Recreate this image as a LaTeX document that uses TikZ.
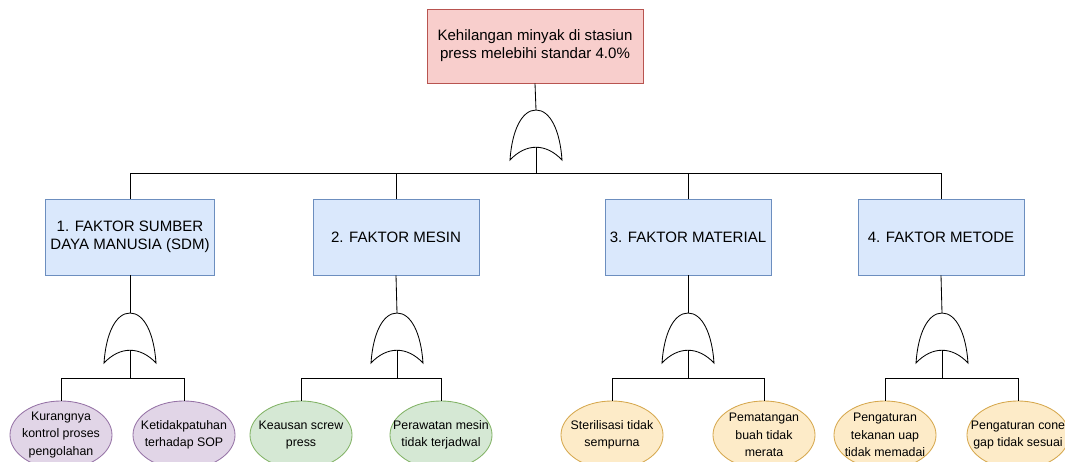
\documentclass[tikz,border=0pt]{standalone}
\usepackage{fontspec}
\setmainfont{Liberation Sans}
\usetikzlibrary{shapes.geometric}
\definecolor{redfill}{HTML}{F8CECC}
\definecolor{redline}{HTML}{B85450}
\definecolor{bluefill}{HTML}{DAE8FC}
\definecolor{blueline}{HTML}{6C8EBF}
\definecolor{purplefill}{HTML}{E1D5E7}
\definecolor{purpleline}{HTML}{9673A6}
\definecolor{greenfill}{HTML}{D5E8D4}
\definecolor{greenline}{HTML}{82B366}
\definecolor{yellowfill}{HTML}{FDEBC8}
\definecolor{yellowline}{HTML}{D6A84E}
\tikzset{
    topevent/.style={draw=redline,fill=redfill,minimum width=5.4cm,minimum height=1.85cm,
        align=center,font=\fontsize{10.7}{12.8}\selectfont},
    factor/.style={draw=blueline,fill=bluefill,minimum width=4.15cm,minimum height=1.9cm,
        align=center,font=\fontsize{10.7}{12.8}\selectfont},
    cause/.style={ellipse,minimum width=2.55cm,minimum height=1.7cm,inner xsep=-10pt,
        inner ysep=-2pt,align=center,font=\fontsize{8.8}{12.4}\selectfont},
    sdm/.style={cause,draw=purpleline,fill=purplefill},
    mesin/.style={cause,draw=greenline,fill=greenfill},
    material/.style={cause,draw=yellowline,fill=yellowfill},
    orgate/.pic={
        \draw[fill=white] (-26,50) .. controls (-24,20) and (-14,0) .. (0,0)
            .. controls (14,0) and (24,20) .. (26,50)
            .. controls (10,33) and (-10,33) .. cycle;
        \coordinate (-top) at (0,0);
        \coordinate (-in) at (0,37);
    }
}

\begin{document}
\begin{tikzpicture}[x=0.025cm,y=-0.025cm,line width=0.6pt]
    \clip (0,0) rectangle (1065,461);
    \node[topevent] (top) at (535,46) {Kehilangan minyak di stasiun\\press melebihi standar 4.0\%};
    \pic (g0) at (536,110) {orgate};
    \coordinate (j0) at (536,173);

    \node[factor] (f1) at (130,237) {1. FAKTOR SUMBER\\DAYA MANUSIA (SDM)};
    \node[factor] (f2) at (396,237) {2. FAKTOR MESIN};
    \node[factor] (f3) at (688,237) {3. FAKTOR MATERIAL};
    \node[factor] (f4) at (941,237) {4. FAKTOR METODE};

    \pic (g1) at (130,313) {orgate};
    \pic (g2) at (397,313) {orgate};
    \pic (g3) at (688,313) {orgate};
    \pic (g4) at (942,313) {orgate};
    \coordinate (j1) at (130,378);
    \coordinate (j2) at (397,378);
    \coordinate (j3) at (688,378);
    \coordinate (j4) at (942,378);

    \node[sdm] (c1) at (61,435) {Kurangnya\\kontrol proses\\pengolahan};
    \node[sdm] (c2) at (184,435) {Ketidakpatuhan\\terhadap SOP};
    \node[mesin] (c3) at (301,435) {Keausan screw\\press};
    \node[mesin] (c4) at (441,435) {Perawatan mesin\\tidak terjadwal};
    \node[material] (c5) at (612,435) {Sterilisasi tidak\\sempurna};
    \node[material] (c6) at (764,435) {Pematangan\\buah tidak\\merata};
    \node[material] (c7) at (885,435) {Pengaturan\\tekanan uap\\tidak memadai};
    \node[material] (c8) at (1018,435) {Pengaturan cone\\gap tidak sesuai};

    % top level
    \draw (top.south) -- (g0-top);
    \draw (g0-in) -- (j0);
    \draw (j0) -| (f1.north);
    \draw (j0) -| (f2.north);
    \draw (j0) -| (f3.north);
    \draw (j0) -| (f4.north);

    % factors
    \draw (f1.south) -- (g1-top);
    \draw (f2.south) -- (g2-top);
    \draw (f3.south) -- (g3-top);
    \draw (f4.south) -- (g4-top);
    \draw (g1-in) -- (j1);
    \draw (g2-in) -- (j2);
    \draw (g3-in) -- (j3);
    \draw (g4-in) -- (j4);
    \draw (j1) -| (c1.north);
    \draw (j1) -| (c2.north);
    \draw (j2) -| (c3.north);
    \draw (j2) -| (c4.north);
    \draw (j3) -| (c5.north);
    \draw (j3) -| (c6.north);
    \draw (j4) -| (c7.north);
    \draw (j4) -| (c8.north);
\end{tikzpicture}
\end{document}
